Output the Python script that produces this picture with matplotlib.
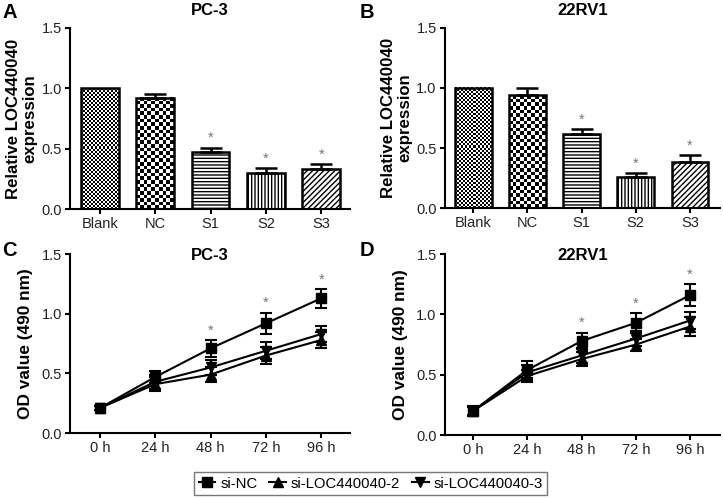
import numpy as np
import matplotlib.pyplot as plt
from matplotlib.lines import Line2D
from matplotlib.colors import ListedColormap

plt.rcParams['font.family'] = ['Liberation Sans', 'DejaVu Sans']
plt.rcParams['hatch.linewidth'] = 1.0

# dati barre (A, B)
gruppi = ['Blank', 'NC', 'S1', 'S2', 'S3']
pc3_expr = [1.00, 0.92, 0.47, 0.30, 0.33]
pc3_err = [0.0, 0.03, 0.04, 0.04, 0.04]
rv1_expr = [1.00, 0.94, 0.62, 0.26, 0.38]
rv1_err = [0.0, 0.06, 0.04, 0.03, 0.06]
stelle_bar = [False, False, True, True, True]

# dati curve (C, D)
tempi = ['0 h', '24 h', '48 h', '72 h', '96 h']
pc3_nc = [0.21, 0.47, 0.71, 0.92, 1.13]
pc3_nc_err = [0.02, 0.05, 0.07, 0.09, 0.08]
pc3_si2 = [0.21, 0.41, 0.49, 0.65, 0.78]
pc3_si2_err = [0.02, 0.06, 0.06, 0.07, 0.07]
pc3_si3 = [0.21, 0.43, 0.55, 0.69, 0.83]
pc3_si3_err = [0.02, 0.06, 0.06, 0.07, 0.07]

rv1_nc = [0.20, 0.54, 0.78, 0.93, 1.16]
rv1_nc_err = [0.04, 0.07, 0.07, 0.08, 0.09]
rv1_si2 = [0.20, 0.49, 0.63, 0.75, 0.90]
rv1_si2_err = [0.03, 0.05, 0.06, 0.05, 0.08]
rv1_si3 = [0.20, 0.52, 0.66, 0.80, 0.95]
rv1_si3_err = [0.03, 0.06, 0.06, 0.06, 0.07]
stelle_linee = [False, False, True, True, True]

# Blank e NC: scacchiera (pixel per casella), gli altri: tratteggio
caselle = [2.0, 3.6, None, None, None]
tratteggi = [None, None, '-----', '|||||', '//////']
LARG = 0.68

fig = plt.figure(figsize=(7.23, 4.98), dpi=100)
axA = fig.add_axes([0.097, 0.580, 0.387, 0.364])
axB = fig.add_axes([0.6155, 0.582, 0.380, 0.362])
axC = fig.add_axes([0.097, 0.1305, 0.387, 0.359])
axD = fig.add_axes([0.6155, 0.1265, 0.380, 0.363])


def stile(ax):
    ax.spines['top'].set_visible(False)
    ax.spines['right'].set_visible(False)
    ax.spines['left'].set_linewidth(1.5)
    ax.spines['bottom'].set_linewidth(1.5)
    ax.tick_params(direction='out', width=1.5, length=3.5, pad=2.5,
                   labelsize=10.5, colors='black', labelcolor='#222222')
    ax.set_ylim(0, 1.5)
    ax.set_yticks([0, 0.5, 1.0, 1.5])
    ax.set_yticklabels(['0.0', '0.5', '1.0', '1.5'])


def scacchiera(ax, xc, h, cella):
    x0, x1 = xc - LARG / 2, xc + LARG / 2
    p0 = ax.transData.transform((x0, 0))
    p1 = ax.transData.transform((x1, h))
    nx = max(1, int(round((p1[0] - p0[0]) / cella)))
    ny = max(1, int(round((p1[1] - p0[1]) / cella)))
    arr = np.add.outer(np.arange(ny), np.arange(nx)) % 2
    ax.imshow(arr, cmap=ListedColormap(['white', 'black']),
              extent=(x0, x1, 0, h), origin='lower', aspect='auto',
              interpolation='nearest', zorder=1.5)


def barre(ax, val, err, titolo, xlim):
    x = np.arange(len(gruppi))
    stile(ax)
    ax.set_xlim(*xlim)
    for i in range(len(gruppi)):
        if caselle[i]:
            scacchiera(ax, x[i], val[i], caselle[i])
            ax.bar(x[i], val[i], width=LARG, facecolor='none',
                   edgecolor='black', linewidth=1.8, zorder=2)
        else:
            ax.bar(x[i], val[i], width=LARG, color='white', edgecolor='black',
                   linewidth=1.8, hatch=tratteggi[i], zorder=2)
        if err[i] > 0:
            ax.errorbar(x[i], val[i], yerr=[[0], [err[i]]], fmt='none',
                        ecolor='black', elinewidth=1.8, capsize=8,
                        capthick=1.8, zorder=3)
        if stelle_bar[i]:
            ax.text(x[i], val[i] + err[i] + 0.02, '*', ha='center',
                    va='bottom', color='#777777', fontsize=10.5)
    ax.set_xticks(x)
    ax.set_xticklabels(gruppi)
    ax.set_xlim(*xlim)
    ax.set_ylim(0, 1.5)
    ax.set_title(titolo, fontweight='bold', fontsize=12, pad=9)
    ax.set_ylabel('Relative LOC440040\nexpression', fontweight='bold',
                  fontsize=12.1, linespacing=1.1, labelpad=3)


def curve(ax, serie, titolo, xlim):
    x = np.arange(len(tempi))
    marker = ['s', '^', 'v']
    for (v, e), m in zip(serie, marker):
        ax.errorbar(x, v, yerr=e, fmt='-', marker=m, color='black',
                    markersize=6.5, linewidth=1.5, elinewidth=1.5,
                    capsize=4, capthick=1.5, zorder=3)
    top = [max(s[0][i] + s[1][i] for s in serie) for i in range(len(tempi))]
    for i in range(len(tempi)):
        if stelle_linee[i]:
            ax.text(x[i], top[i] + 0.02, '*', ha='center', va='bottom',
                    color='#777777', fontsize=10.5)
    stile(ax)
    ax.set_xticks(x)
    ax.set_xticklabels(tempi)
    ax.set_xlim(*xlim)
    # y esplicito: il titolo scende un po' sotto il bordo superiore
    ax.set_title(titolo, fontweight='bold', fontsize=12, y=1.0, pad=-4)
    ax.set_ylabel('OD value (490 nm)', fontweight='bold', fontsize=12.4,
                  labelpad=6)


barre(axA, pc3_expr, pc3_err, 'PC-3', (-0.54, 4.52))
barre(axB, rv1_expr, rv1_err, '22RV1', (-0.52, 4.55))
curve(axC, [(pc3_nc, pc3_nc_err), (pc3_si2, pc3_si2_err),
            (pc3_si3, pc3_si3_err)], 'PC-3', (-0.54, 4.52))
curve(axD, [(rv1_nc, rv1_nc_err), (rv1_si2, rv1_si2_err),
            (rv1_si3, rv1_si3_err)], '22RV1', (-0.52, 4.55))

for lettera, (px, py) in zip('ABCD', [(0.003, 0.994), (0.498, 0.994),
                                      (0.003, 0.516), (0.498, 0.516)]):
    fig.text(px, py, lettera, fontweight='bold', fontsize=14.5, va='top')

voci = [Line2D([], [], color='black', marker='s', markersize=6.5, lw=1.5),
        Line2D([], [], color='black', marker='^', markersize=6.5, lw=1.5),
        Line2D([], [], color='black', marker='v', markersize=6.5, lw=1.5)]
leg = fig.legend(voci, ['si-NC', 'si-LOC440040-2', 'si-LOC440040-3'],
                 loc='lower center', bbox_to_anchor=(0.513, 0.0), ncol=3,
                 fontsize=10.7, frameon=True, fancybox=False,
                 edgecolor='#555555', handlelength=1.1, handletextpad=0.35,
                 columnspacing=0.8, borderpad=0.3, borderaxespad=0.2)
leg.get_frame().set_linewidth(1.0)

fig.savefig('out.png', dpi=100)
